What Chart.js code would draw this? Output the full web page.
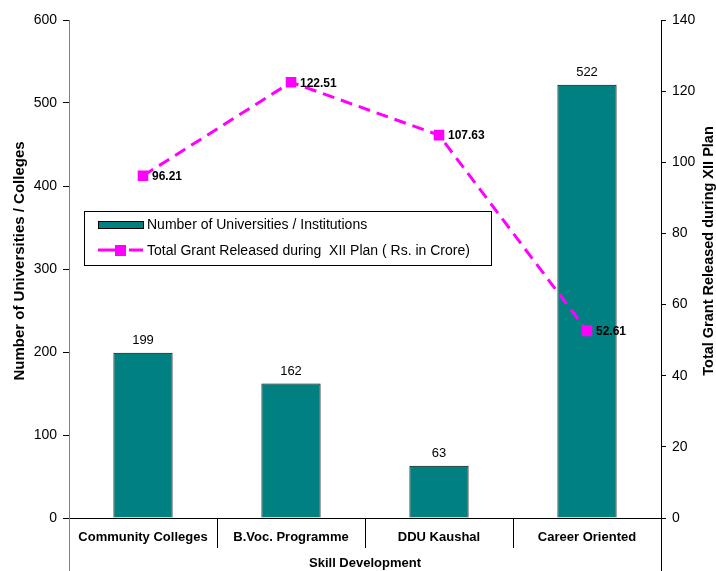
<!DOCTYPE html>
<html>
<head>
<meta charset="utf-8">
<script src="https://cdn.jsdelivr.net/npm/chart.js@4"></script>
<style>
  html, body { margin: 0; padding: 0; background: #fff; }
  canvas { display: block; }
</style>
</head>
<body>
<canvas id="grantChart" width="716" height="571"></canvas>
<script>
const categories = ['Community Colleges', 'B.Voc. Programme', 'DDU Kaushal', 'Career Oriented'];
const institutions = [199, 162, 63, 522];
const grants = [96.21, 122.51, 107.63, 52.61];
const leftTicks = [0, 600, 100];   // min, max, step
const rightTicks = [0, 140, 20];

const FONT = '"Liberation Sans", Arial, sans-serif';
const barLabel = 'Number of Universities / Institutions';
const lineLabel = 'Total Grant Released during  XII Plan ( Rs. in Crore)';
const leftTitle = 'Number of Universities / Colleges';
const rightTitle = 'Total Grant Released during XII Plan';

// extra drawing: category boxes, axis titles, value labels, legend
const decorations = {
    id: 'decorations',
    afterDraw(chart) {
        const c = chart.ctx;
        const area = chart.chartArea;
        const H = chart.height;
        c.save();

        // axis lines running down past the category labels
        c.lineWidth = 1;
        c.strokeStyle = '#808080';
        c.beginPath();
        c.moveTo(area.left + 0.5, area.bottom);
        c.lineTo(area.left + 0.5, H);
        c.stroke();
        c.strokeStyle = '#000';
        c.beginPath();
        c.moveTo(area.right + 0.5, area.bottom);
        c.lineTo(area.right + 0.5, H);
        c.stroke();

        // separators between categories
        const step = (area.right - area.left) / categories.length;
        for (let i = 1; i < categories.length; i++) {
            const x = Math.round(area.left + i * step) + 0.5;
            c.beginPath();
            c.moveTo(x, area.bottom);
            c.lineTo(x, area.bottom + 30);
            c.stroke();
        }

        // axis titles (sit a little above the plot centre, like the original)
        c.fillStyle = '#000';
        c.textAlign = 'center';
        c.textBaseline = 'middle';
        c.font = 'bold 15px ' + FONT;
        c.save();
        c.translate(20, 261);
        c.rotate(-Math.PI / 2);
        c.fillText(leftTitle, 0, 0);
        c.restore();
        c.font = 'bold 14.5px ' + FONT;
        c.save();
        c.translate(709, 251);
        c.rotate(-Math.PI / 2);
        c.fillText(rightTitle, 0, 0);
        c.restore();

        // bar values
        c.font = '13px ' + FONT;
        c.textBaseline = 'bottom';
        chart.getDatasetMeta(1).data.forEach((el, i) => {
            c.fillText(String(institutions[i]), el.x, el.y - 6);
        });

        // line values
        c.font = 'bold 12px ' + FONT;
        c.textAlign = 'left';
        c.textBaseline = 'middle';
        chart.getDatasetMeta(0).data.forEach((el, i) => {
            c.fillText(grants[i].toFixed(2), el.x + 9, el.y + 1);
        });

        // legend
        const lx = 84, ly = 211, lw = 407, lh = 54;
        c.strokeStyle = '#000';
        c.lineWidth = 1;
        c.fillStyle = '#fff';
        c.fillRect(lx + 0.5, ly + 0.5, lw, lh);
        c.strokeRect(lx + 0.5, ly + 0.5, lw, lh);

        c.fillStyle = '#008080';
        c.fillRect(98.5, 221.5, 45, 7);
        c.strokeStyle = '#000';
        c.strokeRect(98.5, 221.5, 45, 7);

        c.strokeStyle = '#FF00FF';
        c.lineWidth = 3;
        c.beginPath();
        c.moveTo(98, 250); c.lineTo(125, 250);
        c.moveTo(129, 250); c.lineTo(143, 250);
        c.stroke();
        c.fillStyle = '#FF00FF';
        c.fillRect(115, 245, 11, 11);

        c.fillStyle = '#000';
        c.font = '14px ' + FONT;
        c.textBaseline = 'middle';
        c.fillText(barLabel, 147, 225);
        c.fillText(lineLabel, 147, 251);

        c.restore();
    }
};

const ctx = document.getElementById('grantChart').getContext('2d');
const grantChart = new Chart(ctx, {
    data: {
        labels: categories,
        datasets: [
            {
                type: 'line',
                label: lineLabel,
                data: grants,
                yAxisID: 'y1',
                borderColor: '#FF00FF',
                backgroundColor: '#FF00FF',
                borderWidth: 3,
                borderDash: [12, 7],
                pointStyle: 'rect',
                pointRadius: 7.5,
                pointBorderWidth: 0,
                tension: 0,
                order: 1
            },
            {
                type: 'bar',
                label: barLabel,
                data: institutions,
                yAxisID: 'y',
                backgroundColor: '#008080',
                borderColor: '#000',
                borderWidth: 1,
                barPercentage: 0.4,
                categoryPercentage: 1,
                order: 2
            }
        ]
    },
    options: {
        responsive: false,
        animation: false,
        layout: { padding: { top: 20, left: 0, right: 0, bottom: 0 } },
        plugins: {
            legend: { display: false },
            tooltip: { enabled: false }
        },
        scales: {
            x: {
                offset: true,
                grid: { display: false, drawOnChartArea: false, drawTicks: false },
                border: { display: true, color: '#000', width: 1 },
                ticks: {
                    color: '#000',
                    font: { family: FONT, size: 13, weight: 'bold' },
                    padding: 12,
                    maxRotation: 0,
                    autoSkip: false
                },
                title: {
                    display: true,
                    text: 'Skill Development',
                    color: '#000',
                    font: { family: FONT, size: 13, weight: 'bold' },
                    padding: { top: 0, bottom: 0 }
                },
                afterFit(s) { s.height = 53; }
            },
            y: {
                position: 'left',
                min: leftTicks[0],
                max: leftTicks[1],
                ticks: {
                    stepSize: leftTicks[2],
                    color: '#000',
                    font: { family: FONT, size: 14 },
                    padding: 6
                },
                grid: { drawOnChartArea: false, drawTicks: true, tickLength: 6, color: '#000' },
                border: { color: '#808080', width: 1 },
                afterFit(s) { s.width = 69; }
            },
            y1: {
                position: 'right',
                min: rightTicks[0],
                max: rightTicks[1],
                ticks: {
                    stepSize: rightTicks[2],
                    color: '#000',
                    font: { family: FONT, size: 14 },
                    padding: 6
                },
                grid: { drawOnChartArea: false, drawTicks: true, tickLength: 5, color: '#000' },
                border: { color: '#000', width: 1 },
                afterFit(s) { s.width = 55; }
            }
        }
    },
    plugins: [decorations]
});
</script>
</body>
</html>
